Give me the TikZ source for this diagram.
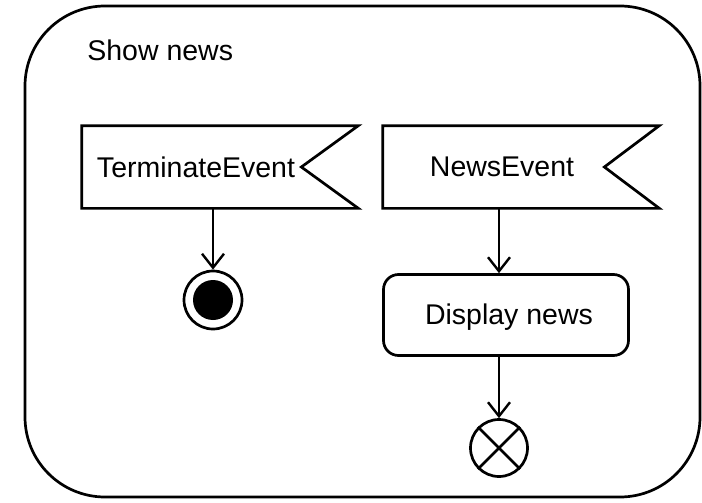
\documentclass[tikz,border=0pt]{standalone}
\usepackage{fontspec}
\setmainfont{Liberation Sans}
\usetikzlibrary{arrows.meta,calc}
\begin{document}
\begin{tikzpicture}[x=1pt,y=-1pt,
  line width=2.7pt,
  lbl/.style={font=\fontsize{28.5}{32}\selectfont, inner sep=0pt},
  flagbox/.style={minimum width=#1, minimum height=80pt, inner sep=0pt},
  actbox/.style={draw, rounded corners=15pt, minimum width=245pt, minimum height=81pt, inner sep=0pt},
  flow/.style={-{Straight Barb[length=14pt,width=22pt,line width=2.4pt]}},
  circ/.style={circle, draw, inner sep=0pt, minimum size=#1}]
\useasboundingbox (0,0) rectangle (702,503);
% enclosing activity frame
\draw[rounded corners=80pt] (25,6) rectangle (700,497);
\node[lbl, anchor=west] (title) at (86,50) {Show news};

% accept event actions
\node[flagbox=274pt] (term) at (220,167) {};
\draw (term.north west) -- (term.north east) -- ($(term.east)+(-57pt,0)$)
      -- (term.south east) -- (term.south west) -- cycle;
\node[lbl] (termtxt) at (196,167) {TerminateEvent};

\node[flagbox=274pt] (news) at (521,167) {};
\draw (news.north west) -- (news.north east) -- ($(news.east)+(-55pt,0)$)
      -- (news.south east) -- (news.south west) -- cycle;
\node[lbl] (newstxt) at (502,167) {NewsEvent};

% activity final node
\node[circ=58pt] (fin) at (213,300) {};
\node[circle, fill=black, inner sep=0pt, minimum size=40pt] (fininner) at (fin) {};

% action
\node[actbox] (disp) at (506,315) {};
\node[lbl] (disptxt) at (509,317) {Display news};

% flow final node
\node[circ=57pt] (ff) at (499,448) {};
\draw (ff.north west) -- (ff.south east);
\draw (ff.north east) -- (ff.south west);

% control flows
\draw[flow] (term.south -| fin) -- (fin.north);
\draw[flow] (news.south -| ff) -- (disp.north -| ff);
\draw[flow] (disp.south -| ff) -- (ff.north);
\end{tikzpicture}
\end{document}
